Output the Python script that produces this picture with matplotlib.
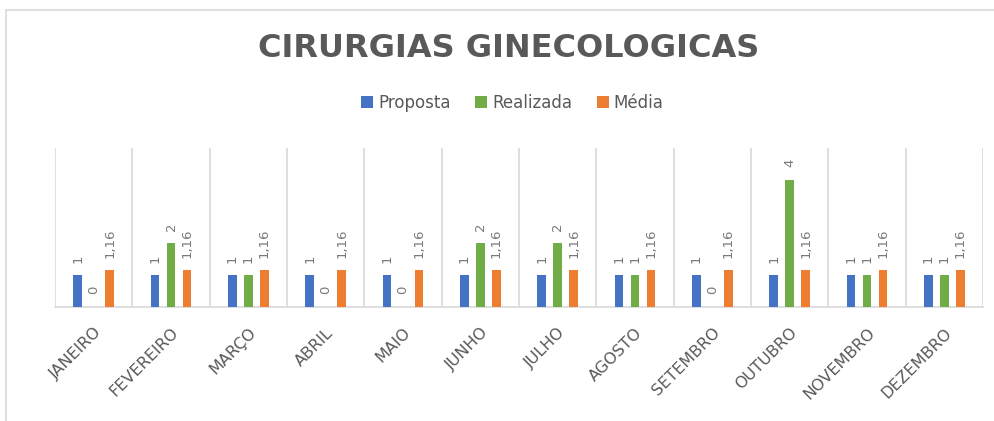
"""Bar chart: Cirurgias ginecologicas, proposta x realizada x media."""
import matplotlib.pyplot as plt
from matplotlib.patches import Rectangle
import numpy as np

meses = ["JANEIRO", "FEVEREIRO", "MARÇO", "ABRIL", "MAIO", "JUNHO",
         "JULHO", "AGOSTO", "SETEMBRO", "OUTUBRO", "NOVEMBRO", "DEZEMBRO"]
proposta = [1, 1, 1, 1, 1, 1, 1, 1, 1, 1, 1, 1]
realizada = [0, 2, 1, 0, 0, 2, 2, 1, 0, 4, 1, 1]
media = [1.16] * 12

series = [("Proposta", proposta, "#4472C4"),
          ("Realizada", realizada, "#70AD47"),
          ("Média", media, "#ED7D31")]

TEXT = "#595959"
GRID = "#d9d9d9"


def fmt(v):
    # Portuguese decimal comma
    if float(v).is_integer():
        return str(int(v))
    return f"{v:.2f}".replace(".", ",")


def main():
    fig = plt.figure(figsize=(9.95, 4.21), dpi=100)
    ax = fig.add_axes([0.0553, 0.2708, 0.9327, 0.3777])

    # outer chart border
    fig.patches.append(Rectangle((0.006, -0.1), 1.2, 1.076, transform=fig.transFigure,
                                 fill=False, edgecolor=GRID, linewidth=1.2))

    x = np.arange(len(meses))
    width = 0.11
    offsets = [-0.207, 0.0, 0.207]
    for (name, vals, color), off in zip(series, offsets):
        bars = ax.bar(x + off, vals, width, color=color, label=name, zorder=3)
        for rect, v in zip(bars, vals):
            ax.annotate(fmt(v), (rect.get_x() + rect.get_width() / 2, v),
                        xytext=(0, 9), textcoords="offset points",
                        rotation=90, ha="center", va="bottom",
                        fontsize=9.5, color="#7a7a7a")

    ax.set_xlim(-0.5, len(meses) - 0.5)
    ax.set_ylim(0, 5)
    ax.vlines(np.arange(len(meses) + 1) - 0.5, 0, 5, color=GRID, linewidth=1.2, zorder=1)

    for s in ["top", "right", "left"]:
        ax.spines[s].set_visible(False)
    ax.spines["bottom"].set_color(GRID)
    ax.spines["bottom"].set_linewidth(1.2)
    ax.set_yticks([])
    ax.set_xticks(x)
    ax.set_xticklabels(meses, rotation=45, ha="right", va="top",
                       rotation_mode="anchor", fontsize=11.5, color=TEXT)
    ax.tick_params(axis="x", length=0, pad=13)

    fig.text(0.511, 0.884, "CIRURGIAS GINECOLOGICAS", ha="center", va="center",
             fontsize=23, fontweight="bold", color=TEXT)
    fig.legend(loc="center", bbox_to_anchor=(0.515, 0.755), ncol=3, frameon=False,
               fontsize=12, labelcolor=TEXT, handlelength=0.7, handleheight=0.7,
               handletextpad=0.3, columnspacing=1.5)

    fig.savefig("out.png", dpi=100)


main()
